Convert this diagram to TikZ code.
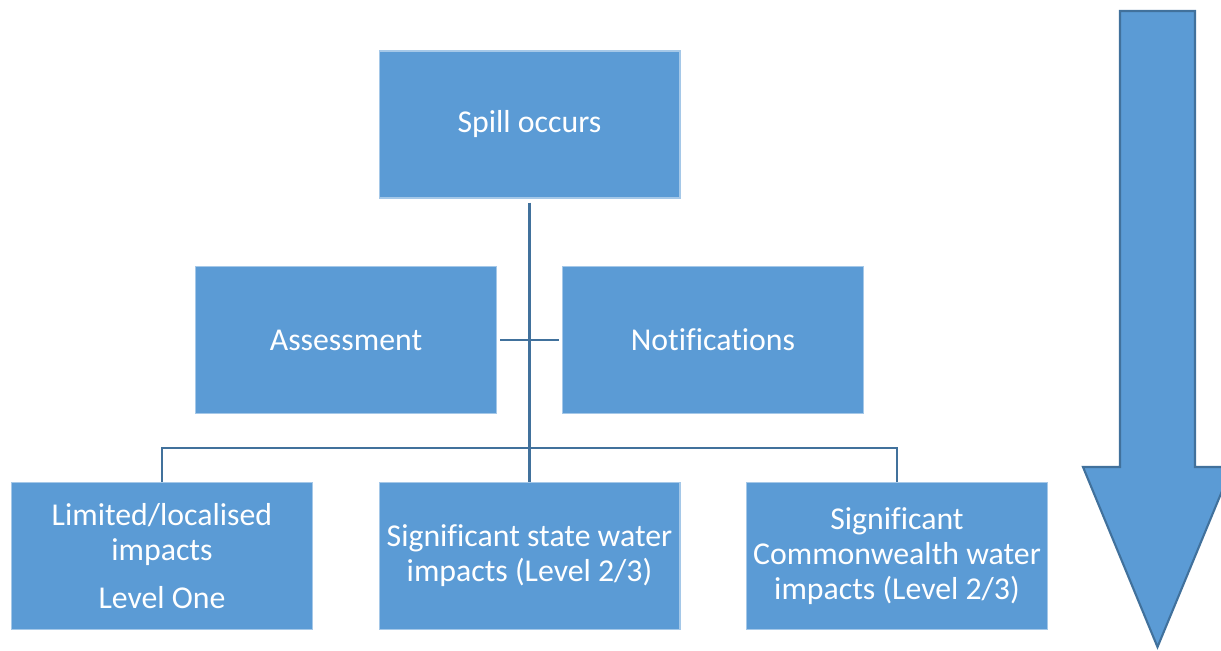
\documentclass[tikz,border=0pt]{standalone}
\usepackage{fontspec}
\setmainfont[Ligatures=NoCommon]{Carlito}
\usetikzlibrary{calc}
\definecolor{boxblue}{HTML}{5B9BD5}
\definecolor{lineblue}{HTML}{41719C}
\tikzset{
  bx/.style={rectangle,fill=boxblue,draw=boxblue!55!white,line width=0.6pt,minimum width=6.02cm,minimum height=2.94cm,
    inner sep=2pt,align=center,text=white,font=\fontsize{18.1}{19.9}\selectfont},
  ln/.style={draw=lineblue,line width=1.4pt},
  every picture/.style={line width=0.5pt},
}
\begin{document}
\begin{tikzpicture}[x=0.02cm,y=-0.02cm]
\useasboundingbox (0,0) rectangle (1221,650);
\node[bx] (spill) at (529.5,124.5){Spill occurs};
\node[bx] (assess) at (346,340){Assessment}; \node[bx] (notif) at (713,340){Notifications};
\node[bx] (lim) at (162,556){Limited/localised\\impacts\\[7pt]Level One};
\node[bx] (state) at (529.5,556){Significant state water\\impacts (Level 2/3)};
\node[bx] (cw) at (897,556){Significant\\Commonwealth water\\impacts (Level 2/3)};
\coordinate (j) at (529.5,448);
\draw[ln] ($(spill.south)+(0,4)$) -- (state.north); \draw[ln] ($(assess.east)+(3,0)$) -- ($(notif.west)+(-3,0)$);
\draw[ln] (lim.north) |- (j) -| (cw.north);
% big arrow on the right
\draw[fill=boxblue,draw=lineblue,line width=1.2pt,line join=miter]
  (1120,11) -- (1195,11) -- (1195,467) -- (1232,467) -- (1157.5,647) -- (1083,467) -- (1120,467) -- cycle;
\end{tikzpicture}
\end{document}
